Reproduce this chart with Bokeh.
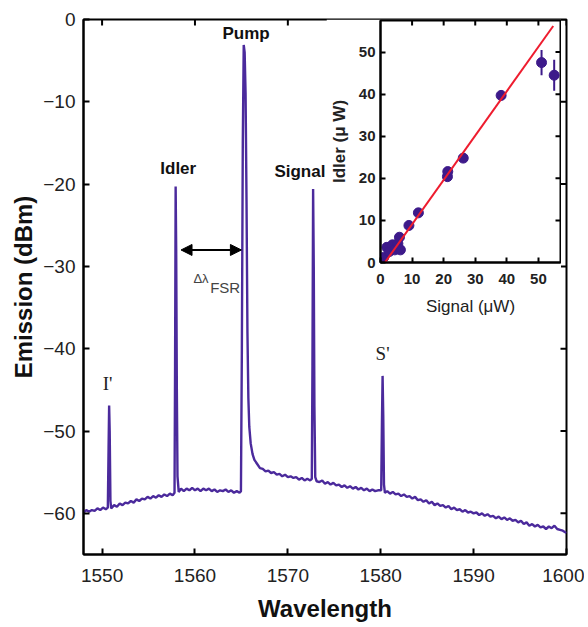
import math
from bokeh.plotting import figure
from bokeh.models import Range1d, FixedTicker, Arrow, NormalHead
from bokeh.embed import file_html
from bokeh.resources import INLINE
from bokeh.core.properties import value
from bokeh.core.templates import get_env

# ---------------- data: main spectrum ----------------
wavelength = [
    1548.0, 1548.3, 1548.6, 1548.9, 1549.2, 1549.5, 1549.8, 1550.1, 1550.4,
    1550.62, 1550.70, 1550.76, 1550.82, 1550.90, 1550.98,
    1551.3, 1551.6, 1551.9, 1552.2, 1552.5, 1552.8, 1553.1, 1553.4, 1553.7,
    1554.0, 1554.3, 1554.6, 1554.9, 1555.2, 1555.5, 1555.8, 1556.1, 1556.4,
    1556.7, 1557.0, 1557.3, 1557.6,
    1557.80, 1557.86, 1557.92, 1557.98, 1558.05, 1558.12, 1558.25,
    1558.5, 1558.8, 1559.1, 1559.4, 1559.7, 1560.0, 1560.3, 1560.6, 1560.9,
    1561.2, 1561.5, 1561.8, 1562.1, 1562.4, 1562.7, 1563.0, 1563.3, 1563.6,
    1563.9, 1564.2, 1564.5, 1564.8,
    1564.95, 1565.05, 1565.15, 1565.25, 1565.35, 1565.45, 1565.55, 1565.65,
    1565.75, 1565.85, 1566.0, 1566.2, 1566.4, 1566.7, 1567.0, 1567.3,
    1567.6, 1567.9, 1568.2, 1568.5, 1568.8, 1569.1, 1569.4, 1569.7, 1570.0,
    1570.3, 1570.6, 1570.9, 1571.2, 1571.5, 1571.8, 1572.1, 1572.4,
    1572.58, 1572.65, 1572.72, 1572.79, 1572.86, 1572.95,
    1573.1, 1573.4, 1573.7, 1574.0, 1574.3, 1574.6, 1574.9, 1575.2, 1575.5,
    1575.8, 1576.1, 1576.4, 1576.7, 1577.0, 1577.3, 1577.6, 1577.9, 1578.2,
    1578.5, 1578.8, 1579.1, 1579.4, 1579.7,
    1580.05, 1580.13, 1580.20, 1580.27, 1580.35, 1580.45,
    1580.7, 1581.0, 1581.3, 1581.6, 1581.9, 1582.2, 1582.5, 1582.8, 1583.1,
    1583.4, 1583.7, 1584.0, 1584.3, 1584.6, 1584.9, 1585.2, 1585.5, 1585.8,
    1586.1, 1586.4, 1586.7, 1587.0, 1587.3, 1587.6, 1587.9, 1588.2, 1588.5,
    1588.8, 1589.1, 1589.4, 1589.7, 1590.0, 1590.3, 1590.6, 1590.9, 1591.2,
    1591.5, 1591.8, 1592.1, 1592.4, 1592.7, 1593.0, 1593.3, 1593.6, 1593.9,
    1594.2, 1594.5, 1594.8, 1595.1, 1595.4, 1595.7, 1596.0, 1596.3, 1596.6,
    1596.9, 1597.2, 1597.5, 1597.8, 1598.1, 1598.4, 1598.7, 1599.0, 1599.3,
    1599.6, 1600.0,
]
emission = [
    -59.9, -59.6, -59.8, -59.6, -59.7, -59.4, -59.6, -59.3, -59.5,
    -59.3, -52.0, -46.9, -50.0, -58.5, -59.4,
    -59.0, -59.2, -58.8, -59.0, -58.7, -58.8, -58.5, -58.7, -58.3,
    -58.5, -58.2, -58.3, -58.0, -58.2, -57.9, -58.1, -57.8, -58.0,
    -57.7, -57.9, -57.6, -57.8,
    -57.5, -42.0, -20.3, -28.0, -45.0, -55.5, -57.4,
    -57.0, -57.3, -57.0, -57.2, -56.9, -57.2, -57.0, -57.3, -57.0,
    -57.2, -57.0, -57.3, -57.1, -57.4, -57.2, -57.3, -57.1, -57.4,
    -57.2, -57.5, -57.3, -57.5,
    -57.3, -40.0, -15.0, -3.1, -4.0, -9.0, -22.0, -38.0,
    -46.0, -49.5, -51.5, -52.8, -53.5, -54.0, -54.5, -54.6,
    -54.9, -54.8, -55.1, -55.0, -55.3, -55.2, -55.5, -55.3, -55.6,
    -55.5, -55.7, -55.6, -55.9, -55.7, -56.0, -55.8, -56.0,
    -55.8, -42.0, -20.6, -30.0, -47.0, -55.6,
    -56.1, -56.2, -56.0, -56.4, -56.2, -56.5, -56.3, -56.6, -56.5,
    -56.8, -56.6, -56.9, -56.7, -57.0, -56.8, -57.1, -56.9, -57.2,
    -57.0, -57.3, -57.1, -57.3, -57.2,
    -57.2, -49.0, -43.3, -48.0, -56.5, -57.5,
    -57.3, -57.6, -57.4, -57.7, -57.6, -57.9, -57.7, -58.0, -57.9,
    -58.2, -58.0, -58.4, -58.3, -58.6, -58.4, -58.8, -58.6, -59.0,
    -58.8, -59.1, -59.0, -59.3, -59.1, -59.5, -59.3, -59.6, -59.5,
    -59.8, -59.6, -59.9, -59.8, -60.0, -59.9, -60.2, -60.0, -60.3,
    -60.1, -60.4, -60.3, -60.6, -60.4, -60.7, -60.5, -60.8, -60.6,
    -60.9, -60.8, -61.1, -60.9, -61.3, -61.1, -61.5, -61.3, -61.6,
    -61.4, -61.7, -61.6, -61.9, -61.6, -61.8, -61.5, -61.9, -62.0,
    -62.1, -62.4,
]
x_limits = [1548, 1600]
y_limits = [-65, 0]
x_ticks = [1550, 1560, 1570, 1580, 1590, 1600]
y_ticks = [0, -10, -20, -30, -40, -50, -60]

# peak annotations
bold_label_x = [1558.2, 1565.5, 1571.3]
bold_label_y = [-18.1, -1.7, -18.5]
bold_label_text = ["Idler", "Pump", "Signal"]
prime_label_x = [1550.6, 1580.2]
prime_label_y = [-44.2, -40.6]
prime_label_text = ["I'", "S'"]
fsr_arrow_x = [1558.5, 1565.0]
fsr_arrow_y = -28.0
fsr_text_x = [1560.65, 1563.25]
fsr_text_y = [-31.5, -32.6]
fsr_text = ["Δλ", "FSR"]

# ---------------- data: inset ----------------
signal_uw = [0.3, 1.0, 2.0, 2.8, 3.8, 4.5, 5.5, 6.0, 6.3, 9.0, 12.0, 21.2, 21.3, 26.2, 38.2, 51.0, 55.0]
idler_uw = [0.2, 1.2, 3.6, 2.6, 4.2, 3.0, 4.5, 6.0, 3.0, 8.8, 11.8, 20.4, 21.6, 24.8, 39.7, 47.5, 44.5]
idler_err = [0.4, 0.4, 0.5, 0.5, 0.5, 0.5, 0.5, 0.6, 0.5, 0.7, 0.8, 1.0, 1.0, 1.0, 1.2, 3.0, 3.7]
fit_x = [1.4, 54.7]
fit_y = [0.0, 56.2]
inset_x_limits = [0, 57]
inset_y_limits = [0, 57.5]
inset_ticks = [0, 10, 20, 30, 40, 50]

SPEC = "#4b2a9c"
DOT = "#3d1a8a"
FONT = "Liberation Sans"


def style_frame(fig):
    fig.background_fill_color = "white"
    fig.border_fill_color = "white"
    fig.xgrid.visible = False
    fig.ygrid.visible = False
    fig.outline_line_color = "black"
    fig.outline_line_width = 2
    fig.outline_line_alpha = 1


# ---------------- main figure ----------------
p = figure(width=584, height=624, x_range=Range1d(*x_limits), y_range=Range1d(*y_limits),
           output_backend="svg", toolbar_location=None,
           min_border_left=83, min_border_right=18, min_border_top=19, min_border_bottom=66)
style_frame(p)

p.line(wavelength, emission, line_color=SPEC, line_width=2.4)

p.text(bold_label_x, bold_label_y, text=bold_label_text, text_font=value(FONT),
       text_font_style="bold", text_font_size="17px", text_align="center",
       text_baseline="middle", text_color="#111111")
p.text(prime_label_x, prime_label_y, text=prime_label_text, text_font=value("Liberation Serif"),
       text_font_size="19px", text_align="center", text_baseline="middle", text_color="#222222")
p.text(fsr_text_x[:1], fsr_text_y[:1], text=fsr_text[:1], text_font=value(FONT),
       text_font_size="13px", text_align="center", text_baseline="middle", text_color="#444444")
p.text(fsr_text_x[1:], fsr_text_y[1:], text=fsr_text[1:], text_font=value(FONT),
       text_font_size="15px", text_align="center", text_baseline="middle", text_color="#444444")
p.add_layout(Arrow(start=NormalHead(size=11, fill_color="black", line_color="black"),
                   end=NormalHead(size=11, fill_color="black", line_color="black"),
                   x_start=fsr_arrow_x[0], y_start=fsr_arrow_y,
                   x_end=fsr_arrow_x[1], y_end=fsr_arrow_y,
                   line_width=2, line_color="black"))

# mirror ticks on the top and right edges of the frame
p.ray(x=x_ticks, y=[y_limits[1]] * len(x_ticks), length=6, length_units="screen",
      angle=-math.pi / 2, line_color="black", line_width=2)
p.ray(x=[x_limits[1]] * len(y_ticks), y=y_ticks, length=6, length_units="screen",
      angle=math.pi, line_color="black", line_width=2)

xb = p.below[0]
yl = p.left[0]
xb.ticker = FixedTicker(ticks=x_ticks)
yl.ticker = FixedTicker(ticks=y_ticks)
xb.axis_label = "Wavelength"
yl.axis_label = "Emission (dBm)"
yl.major_label_overrides = {t: ("−%d" % -t if t < 0 else str(t)) for t in y_ticks}
for ax in (xb, yl):
    ax.major_tick_in = 6
    ax.major_tick_out = 0
    ax.minor_tick_line_color = None
    ax.axis_line_width = 2
    ax.major_tick_line_width = 2
    ax.major_label_text_font = FONT
    ax.major_label_text_font_size = "19px"
    ax.major_label_text_color = "#222222"
    ax.axis_label_text_font = FONT
    ax.axis_label_text_font_style = "bold"
    ax.axis_label_text_font_size = "24px"
    ax.axis_label_text_color = "#111111"
xb.major_label_standoff = 14
xb.axis_label_standoff = 10
yl.major_label_standoff = 8
yl.axis_label_standoff = 3

# ---------------- inset figure ----------------
ins = figure(width=235, height=311, x_range=Range1d(*inset_x_limits), y_range=Range1d(*inset_y_limits),
             output_backend="svg", toolbar_location=None,
             min_border_left=52, min_border_right=1, min_border_top=1, min_border_bottom=68)
style_frame(ins)

err_lo = [v - e for v, e in zip(idler_uw, idler_err)]
err_hi = [v + e for v, e in zip(idler_uw, idler_err)]
ins.segment(signal_uw, err_lo, signal_uw, err_hi, line_color=DOT, line_width=2)
ins.scatter(signal_uw, idler_uw, size=10, fill_color=DOT, line_color=DOT)
ins.line(fit_x, fit_y, line_color="#ee1c2e", line_width=2)

ins.ray(x=inset_ticks[1:], y=[inset_y_limits[1]] * (len(inset_ticks) - 1), length=5,
        length_units="screen", angle=-math.pi / 2, line_color="black", line_width=2)
ins.ray(x=[inset_x_limits[1]] * (len(inset_ticks) - 1), y=inset_ticks[1:], length=5,
        length_units="screen", angle=math.pi, line_color="black", line_width=2)

ixb = ins.below[0]
iyl = ins.left[0]
ixb.ticker = FixedTicker(ticks=inset_ticks)
iyl.ticker = FixedTicker(ticks=inset_ticks)
ixb.axis_label = "Signal (μW)"
iyl.axis_label = "Idler (μ W)"
for ax in (ixb, iyl):
    ax.major_tick_in = 5
    ax.major_tick_out = 0
    ax.minor_tick_line_color = None
    ax.axis_line_width = 2
    ax.major_tick_line_width = 2
    ax.major_label_text_font = FONT
    ax.major_label_text_font_style = "bold"
    ax.major_label_text_font_size = "15px"
    ax.major_label_text_color = "#222222"
    ax.axis_label_text_font = FONT
    ax.axis_label_text_font_size = "17px"
    ax.axis_label_text_color = "#222222"
ixb.axis_label_text_font_style = "normal"
iyl.axis_label_text_font_style = "bold"
ixb.major_label_standoff = 11
ixb.axis_label_standoff = 10
iyl.major_label_standoff = 5
iyl.axis_label_standoff = 7

TEMPLATE = get_env().from_string("""{% from macros import embed %}
<!DOCTYPE html>
<html lang="en">
<head>
<meta charset="utf-8">
<title>Emission spectrum</title>
{{ bokeh_css if bokeh_css }}
{{ bokeh_js if bokeh_js }}
<style>html, body { margin: 0; padding: 0; background: white; }</style>
</head>
<body>
<div style="position: absolute; left: 0px; top: 0px;">{{ embed(roots[0]) }}</div>
<div style="position: absolute; left: 326px; top: 19px;">{{ embed(roots[1]) }}</div>
{{ plot_script }}
</body>
</html>
""")

open("out.html", "w").write(file_html([p, ins], INLINE, template=TEMPLATE))
